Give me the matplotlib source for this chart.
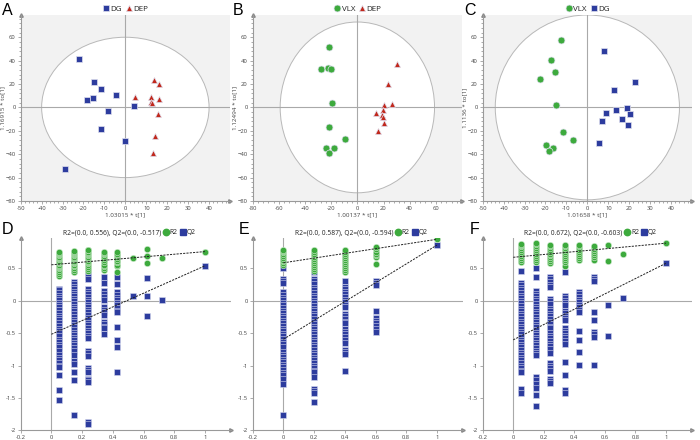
import matplotlib
matplotlib.use("Agg")
import matplotlib.pyplot as plt
from matplotlib.patches import Ellipse
from matplotlib.lines import Line2D
from matplotlib.ticker import MultipleLocator, FuncFormatter
import numpy as np

plt.rcParams['font.family'] = ['Open Sans', 'DejaVu Sans']

BLUE = '#2d3c9e'
RED = '#c1281c'
GREEN = '#3daa3d'
GRID = '#a9a9a9'
TXT = '#444444'

# ---------------- score plots data ----------------
a_dg_x = [-22.2, -15.0, -11.8, -4.3, -18.2, -15.5, -8.5, 4.0, -11.8, -0.3, -28.6]
a_dg_y = [41.4, 21.4, 15.4, 10.3, 6.0, 8.0, -2.9, 0.9, -18.6, -28.6, -52.3]
a_dep_x = [13.7, 16.0, 4.8, 12.3, 16.3, 12.3, 12.8, 15.8, 14.1, 13.3]
a_dep_y = [23.1, 19.7, 8.6, 8.6, 6.9, 4.6, 3.4, -6.0, -24.3, -38.9]

b_vlx_x = [-21.4, -27.8, -22.7, -20.1, -19.6, -21.7, -9.2, -23.9, -17.5, -21.7]
b_vlx_y = [52.0, 32.6, 34.0, 32.6, 3.4, -16.9, -27.1, -35.0, -35.0, -39.0]
b_dep_x = [30.0, 23.4, 26.5, 20.1, 19.9, 14.3, 19.1, 19.9, 20.1, 15.5]
b_dep_y = [36.9, 19.7, 2.9, 1.7, -2.3, -4.9, -6.6, -8.6, -13.4, -20.3]

c_vlx_x = [-12.7, -17.5, -15.5, -22.5, -15.0, -11.8, -7.0, -19.9, -16.4, -18.2]
c_vlx_y = [57.7, 40.6, 30.6, 24.0, 2.0, -21.4, -27.7, -32.0, -34.3, -37.1]
c_dg_x = [8.1, 22.9, 12.7, 13.9, 18.8, 8.9, 20.2, 16.6, 7.0, 19.4, 5.4]
c_dg_y = [48.3, 21.7, 14.6, -2.0, -0.6, -5.1, -5.7, -10.0, -12.0, -14.9, -30.6]

# ---------------- permutation data ----------------
d_perm_x = [0.05, 0.15, 0.24, 0.34, 0.43, 0.53, 0.62, 0.72]
d_r2 = [
    [0.38, 0.42, 0.45, 0.48, 0.5, 0.52, 0.54, 0.56, 0.58, 0.6, 0.62, 0.64, 0.66, 0.68, 0.7, 0.72, 0.74, 0.76],
    [0.44, 0.47, 0.5, 0.53, 0.56, 0.58, 0.6, 0.62, 0.64, 0.66, 0.68, 0.7, 0.72, 0.74, 0.76, 0.77],
    [0.46, 0.49, 0.52, 0.55, 0.58, 0.6, 0.62, 0.64, 0.66, 0.68, 0.7, 0.72, 0.74, 0.76, 0.78, 0.79],
    [0.47, 0.5, 0.53, 0.56, 0.6, 0.63, 0.66, 0.69, 0.72, 0.74, 0.76],
    [0.45, 0.53, 0.56, 0.6, 0.62, 0.65, 0.68, 0.71, 0.73, 0.75],
    [0.66],
    [0.58, 0.69, 0.80],
    [0.66],
]
d_q2 = [
    [0.19, 0.16, 0.12, 0.08, 0.05, 0.01, -0.03, -0.07, -0.1, -0.14, -0.19, -0.23, -0.27, -0.3, -0.34, -0.39,
     -0.43, -0.47, -0.5, -0.55, -0.6, -0.64, -0.68, -0.72, -0.77, -0.83, -0.88, -0.92, -0.96, -1.0, -1.02,
     -1.15, -1.37, -1.53],
    [0.48, 0.29, 0.26, 0.22, 0.18, 0.14, 0.11, 0.07, 0.03, -0.01, -0.05, -0.09, -0.12, -0.16, -0.2, -0.25,
     -0.29, -0.33, -0.37, -0.41, -0.45, -0.49, -0.53, -0.57, -0.61, -0.65, -0.69, -0.73, -0.77, -0.83,
     -0.93, -0.97, -1.1, -1.22, -1.76],
    [0.44, 0.36, 0.33, 0.18, 0.14, 0.1, 0.06, 0.02, -0.02, -0.06, -0.1, -0.14, -0.18, -0.22, -0.26, -0.3,
     -0.34, -0.38, -0.42, -0.46, -0.5, -0.54, -0.58, -0.77, -0.8, -0.85, -1.04, -1.07, -1.1, -1.2, -1.23,
     -1.25, -1.87, -1.9],
    [0.37, 0.27, 0.15, 0.11, 0.06, 0.02, -0.1, -0.14, -0.18, -0.22, -0.32, -0.36, -0.4, -0.42, -0.52],
    [0.36, 0.26, 0.13, 0.09, 0.05, 0.01, -0.03, -0.07, -0.11, -0.15, -0.18, -0.4, -0.6, -0.71, -1.1],
    [0.08],
    [0.35, 0.07, -0.24],
    [0.01],
]
d_orig = [0.76, 0.54]          # R2, Q2 of the real model
d_icpt = [0.556, -0.517]       # intercepts

e_perm_x = [0.0, 0.2, 0.4, 0.6]
e_r2 = [
    [0.55, 0.58, 0.61, 0.63, 0.66, 0.69, 0.72, 0.75, 0.77, 0.79],
    [0.46, 0.49, 0.52, 0.55, 0.58, 0.61, 0.64, 0.67, 0.7, 0.73, 0.76, 0.79],
    [0.45, 0.48, 0.51, 0.54, 0.57, 0.6, 0.63, 0.66, 0.69, 0.72, 0.75, 0.78],
    [0.57, 0.67, 0.7, 0.73, 0.76, 0.8, 0.83],
]
e_q2 = [
    [0.5, 0.33, 0.3, 0.28, 0.13, 0.09, 0.05, 0.01, -0.03, -0.07, -0.11, -0.15, -0.19, -0.23, -0.27, -0.31,
     -0.35, -0.39, -0.43, -0.47, -0.51, -0.55, -0.59, -0.63, -0.67, -0.71, -0.79, -0.83, -0.87, -0.91,
     -0.95, -0.99, -1.03, -1.07, -1.11, -1.15, -1.2, -1.28, -1.76],
    [0.45, 0.33, 0.3, 0.26, 0.2, 0.16, 0.12, 0.08, 0.04, 0.0, -0.04, -0.08, -0.12, -0.16, -0.2, -0.24,
     -0.28, -0.32, -0.36, -0.4, -0.44, -0.48, -0.52, -0.56, -0.6, -0.64, -0.68, -0.72, -0.76, -0.8, -0.84,
     -0.88, -0.92, -0.96, -1.0, -1.04, -1.08, -1.1, -1.17, -1.36, -1.39, -1.43, -1.57],
    [0.31, 0.22, 0.18, 0.14, 0.1, 0.06, 0.02, -0.02, -0.06, -0.1, -0.2, -0.24, -0.28, -0.32, -0.35, -0.44,
     -0.48, -0.52, -0.56, -0.6, -0.65, -0.76, -0.79, -0.82, -1.08],
    [0.3, 0.27, 0.25, -0.16, -0.27, -0.31, -0.35, -0.39, -0.43, -0.48],
]
e_orig = [0.95, 0.86]
e_icpt = [0.587, -0.594]

f_perm_x = [0.05, 0.15, 0.24, 0.34, 0.43, 0.53, 0.62, 0.72]
f_r2 = [
    [0.6, 0.63, 0.66, 0.69, 0.72, 0.75, 0.78, 0.81, 0.84, 0.86, 0.88],
    [0.6, 0.63, 0.66, 0.69, 0.72, 0.75, 0.78, 0.81, 0.84, 0.87, 0.9],
    [0.58, 0.61, 0.64, 0.67, 0.7, 0.73, 0.76, 0.79, 0.82, 0.84, 0.86],
    [0.53, 0.6, 0.63, 0.66, 0.69, 0.72, 0.75, 0.78, 0.81, 0.84, 0.86],
    [0.63, 0.66, 0.69, 0.72, 0.75, 0.78, 0.81, 0.84, 0.86],
    [0.63, 0.67, 0.71, 0.74, 0.77, 0.8, 0.83, 0.85],
    [0.62, 0.86],
    [0.73],
]
f_q2 = [
    [0.46, 0.28, 0.24, 0.2, 0.16, 0.12, 0.08, 0.04, 0.0, -0.04, -0.08, -0.12, -0.16, -0.2, -0.24, -0.28,
     -0.32, -0.36, -0.4, -0.44, -0.48, -0.52, -0.56, -0.6, -0.64, -0.68, -0.72, -0.76, -0.8, -0.84, -0.88,
     -0.92, -0.96, -1.0, -1.04, -1.08, -1.1, -1.36, -1.43],
    [0.5, 0.37, 0.15, 0.11, 0.07, 0.03, -0.01, -0.05, -0.09, -0.13, -0.17, -0.21, -0.25, -0.29, -0.33,
     -0.37, -0.41, -0.45, -0.49, -0.53, -0.57, -0.61, -0.65, -0.69, -0.73, -0.77, -0.81, -0.84, -1.17,
     -1.22, -1.28, -1.34, -1.45, -1.62],
    [0.37, 0.33, 0.29, 0.25, 0.22, 0.03, -0.01, -0.05, -0.12, -0.16, -0.2, -0.24, -0.28, -0.32, -0.36,
     -0.4, -0.42, -0.5, -0.54, -0.58, -0.62, -0.66, -0.7, -0.75, -0.8, -0.96, -1.0, -1.04, -1.08, -1.2,
     -1.24, -1.27],
    [0.45, 0.08, 0.04, 0.0, -0.04, -0.06, -0.15, -0.19, -0.23, -0.27, -0.3, -0.42, -0.46, -0.5, -0.54,
     -0.58, -0.62, -0.67, -0.95, -1.14, -1.38, -1.42],
    [0.14, 0.1, 0.06, 0.02, -0.02, -0.06, -0.1, -0.14, -0.17, -0.47, -0.6, -0.79, -0.99],
    [0.36, 0.33, 0.3, -0.17, -0.29, -0.48, -0.52, -0.56, -0.99],
    [-0.07, -0.54],
    [0.04],
]
f_orig = [0.89, 0.58]
f_icpt = [0.672, -0.603]

W, H = 700, 440
fig = plt.figure(figsize=(W / 100, H / 100), dpi=100)


def fr(l, t, r, b):
    return [l / W, 1 - b / H, (r - l) / W, (b - t) / H]


def style_axes(ax, bg):
    ax.set_facecolor(bg)
    for s in ['top', 'right']:
        ax.spines[s].set_visible(False)
    for s in ['left', 'bottom']:
        ax.spines[s].set_color('#9a9a9a')
        ax.spines[s].set_linewidth(0.8)
    ax.tick_params(which='both', direction='out', colors='#8a8a8a', labelcolor=TXT, labelsize=4.2,
                   length=2.2, width=0.5, pad=1.5)
    ax.tick_params(which='minor', length=1.3)
    ax.plot([1], [0], marker='>', ms=2.5, color='#8a8a8a', transform=ax.transAxes, clip_on=False)
    ax.plot([0], [1], marker='^', ms=2.5, color='#8a8a8a', transform=ax.transAxes, clip_on=False)


def fmt(v, p):
    return '%g' % round(v, 2)


def score_panel(rect, groups, xlim, xmajor, xticks, ell, xlabel, ylabel, letter, lx):
    ax = fig.add_axes(fr(*rect))
    style_axes(ax, '#f2f2f2')
    ax.add_patch(Ellipse((0, 0), 2 * ell[0], 2 * ell[1], facecolor='white', edgecolor='#b8b8b8',
                         lw=0.7, zorder=1))
    ax.axhline(0, color=GRID, lw=0.8, zorder=2)
    ax.axvline(0, color=GRID, lw=0.8, zorder=2)
    handles = []
    for xs, ys, name, col, mk, ms in groups:
        h, = ax.plot(xs, ys, linestyle='none', marker=mk, ms=ms, color=col, mec='#dfe0ee', mew=0.5,
                     zorder=4, label=name)
        handles.append(h)
    ax.set_xlim(*xlim)
    ax.set_ylim(-80, 79)
    ax.set_xticks(xticks)
    ax.set_yticks([-80, -60, -40, -20, 0, 20, 40, 60])
    ax.xaxis.set_minor_locator(MultipleLocator(xmajor / 5))
    ax.yaxis.set_minor_locator(MultipleLocator(4))
    ax.xaxis.set_major_formatter(FuncFormatter(fmt))
    ax.set_xlabel(xlabel, fontsize=4.5, color=TXT, labelpad=1)
    ax.set_ylabel(ylabel, fontsize=4.5, color=TXT)
    ax.yaxis.set_label_coords(-0.072, 0.5)
    leg = ax.legend(handles=handles, loc='lower center', bbox_to_anchor=(0.5, 1.0), ncol=2, frameon=False,
                    fontsize=5.8, handlelength=0.9, handletextpad=0.1, columnspacing=0.4,
                    borderaxespad=0.15, borderpad=0.1)
    for t in leg.get_texts():
        t.set_color('#222222')
    fig.text(lx / W, 1 - 3 / H, letter, fontsize=11.5, family='Liberation Sans', va='top', ha='left')
    return ax


score_panel((20.7, 15, 230, 201),
            [(a_dg_x, a_dg_y, 'DG', BLUE, 's', 4.6), (a_dep_x, a_dep_y, 'DEP', RED, '^', 4.6)],
            (-50, 50), 10, range(-50, 41, 10), (40, 60), '1.03015 * t[1]', '1.16915 * to[1]', 'A', 2)
score_panel((252.7, 15, 462, 201),
            [(b_vlx_x, b_vlx_y, 'VLX', GREEN, 'o', 5.0), (b_dep_x, b_dep_y, 'DEP', RED, '^', 4.6)],
            (-80, 80), 20, range(-80, 61, 20), (59, 73), '1.00137 * t[1]', '1.12494 * to[1]', 'B', 233)
score_panel((482.7, 15, 692, 201),
            [(c_vlx_x, c_vlx_y, 'VLX', GREEN, 'o', 5.0), (c_dg_x, c_dg_y, 'DG', BLUE, 's', 4.6)],
            (-50, 50), 10, range(-50, 41, 10), (44, 79), '1.01658 * t[1]', '1.1136 * to[1]', 'C', 464)


def perm_panel(rect, px, r2cols, q2cols, orig, icpt, letter, lx):
    ax = fig.add_axes(fr(*rect))
    style_axes(ax, 'white')
    ax.axhline(0, color=GRID, lw=0.8, zorder=1)
    ax.axvline(0, color=GRID, lw=0.8, zorder=1)
    for x, col in zip(px, q2cols):
        ax.plot([x] * len(col), col, linestyle='none', marker='s', ms=4.3, color=BLUE, mec='#d5d8ee',
                mew=0.4, zorder=3)
    for x, col in zip(px, r2cols):
        ax.plot([x] * len(col), col, linestyle='none', marker='o', ms=4.6, color=GREEN, mec='#d8efd8',
                mew=0.4, zorder=3)
    ax.plot([1.0], [orig[1]], linestyle='none', marker='s', ms=4.3, color=BLUE, mec='#d5d8ee', mew=0.4,
            zorder=3)
    ax.plot([1.0], [orig[0]], linestyle='none', marker='o', ms=4.6, color=GREEN, mec='#d8efd8', mew=0.4,
            zorder=3)
    ax.plot([0, 1], [icpt[0], orig[0]], color='#222222', lw=0.7, ls=(0, (2.2, 1.2)), zorder=4)
    ax.plot([0, 1], [icpt[1], orig[1]], color='#222222', lw=0.7, ls=(0, (2.2, 1.2)), zorder=4)
    ax.set_xlim(-0.2, 1.17)
    ax.set_ylim(-2, 0.97)
    ax.set_xticks([-0.2, 0, 0.2, 0.4, 0.6, 0.8, 1])
    ax.set_yticks([-2, -1.5, -1, -0.5, 0, 0.5])
    ax.xaxis.set_major_formatter(FuncFormatter(fmt))
    ax.yaxis.set_major_formatter(FuncFormatter(fmt))
    blank = Line2D([], [], linestyle='none', marker='none')
    h2 = Line2D([], [], linestyle='none', marker='o', ms=4.6, color=GREEN)
    hq = Line2D([], [], linestyle='none', marker='s', ms=4.3, color=BLUE)
    lab = 'R2=(0.0, %g), Q2=(0.0, %g)' % (icpt[0], icpt[1])
    leg = ax.legend(handles=[blank, h2, hq], labels=[lab, 'R2', 'Q2'], loc='lower center',
                    bbox_to_anchor=(0.5, 1.0), ncol=3, frameon=False, fontsize=4.8, handlelength=0.8,
                    handletextpad=0.15, columnspacing=0.35, borderaxespad=0.2, borderpad=0.1)
    for t in leg.get_texts():
        t.set_color('#222222')
    fig.text(lx / W, 1 - 222 / H, letter, fontsize=11.5, family='Liberation Sans', va='top', ha='left')
    return ax


perm_panel((20.7, 238, 231, 430.3), d_perm_x, d_r2, d_q2, d_orig, d_icpt, 'D', 2)
perm_panel((252.7, 238, 463, 430.3), e_perm_x, e_r2, e_q2, e_orig, e_icpt, 'E', 239)
perm_panel((482.7, 238, 692, 430.3), f_perm_x, f_r2, f_q2, f_orig, f_icpt, 'F', 470)

fig.savefig('out.png', dpi=100)
